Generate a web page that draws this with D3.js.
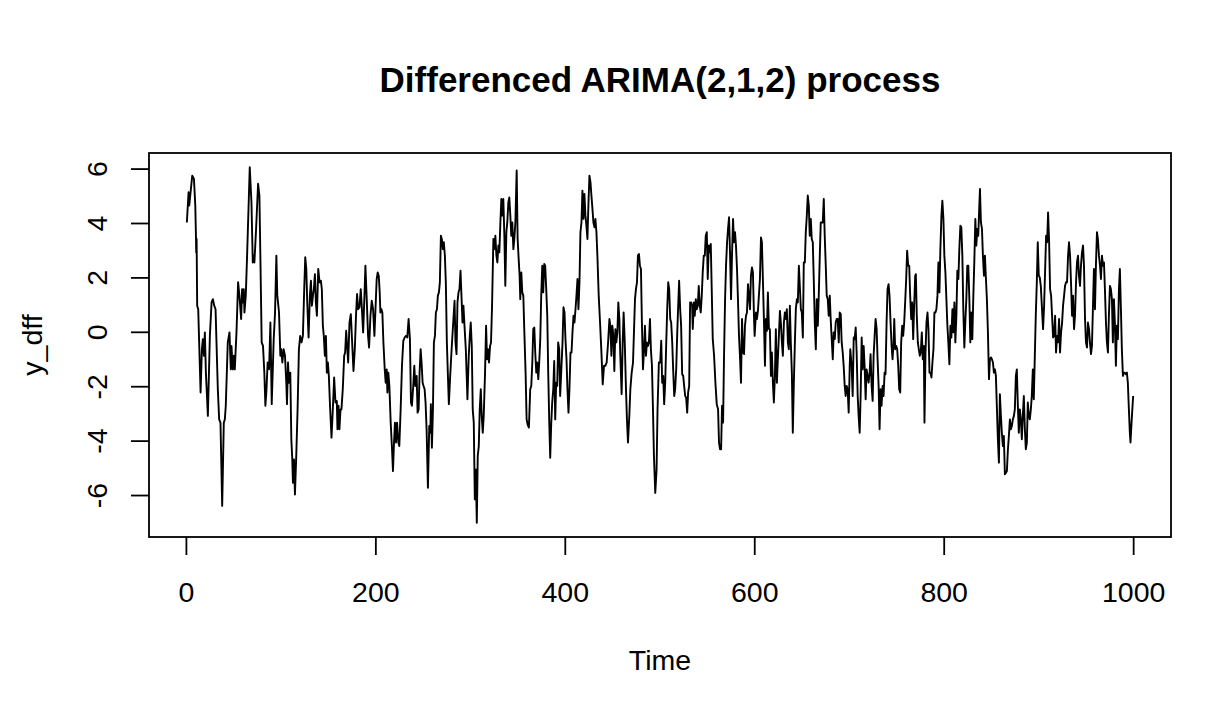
<!DOCTYPE html>
<html>
<head>
<meta charset="utf-8">
<script src="https://cdn.jsdelivr.net/npm/d3@7/dist/d3.min.js"></script>
<style>
  body { margin: 0; background: #fff; }
  text { font-family: "Liberation Sans", Arial, Helvetica, sans-serif; fill: #000; }
</style>
</head>
<body>
<div id="chart"></div>
<script>
// time index of the points
var time = [
  // 1 - 96
  1,2.8,3.5,6.7,8.5,9.9,10.6,10.9,11.3,11.9,13.0,14.4,15.5,16.9,17.9,19.0,20.0,21.1,23.2,25.3,
  27.1,28.5,29.9,31.3,33.7,35.1,36.5,38.3,40.0,41.1,42.1,44.2,46.0,47.4,48.1,49.5,50.6,51.6,53.4,55.1,
  56.5,58.3,59.3,60.4,61.1,61.8,63.2,64.6,66.4,67.4,69.2,70.6,71.6,72.3,74.1,76.2,77.6,78.6,80.0,81.4,
  82.8,83.9,84.9,86.3,87.8,89.2,90.6,92.7,94.1,95.5,
  // 96 - 197
  96.5,98.3,99.7,100.7,101.8,103.2,104.6,106.0,106.7,107.8,108.8,110.2,111.3,112.3,113.0,114.1,115.1,116.5,117.9,119.3,
  120.7,122.1,123.5,124.9,126.0,127.1,128.1,129.5,130.9,132.0,133.0,134.1,135.1,136.2,137.2,138.3,139.7,141.1,142.5,143.5,
  144.6,145.6,146.7,147.8,148.8,149.9,150.9,152.3,153.7,155.1,156.5,157.9,159.3,160.0,161.1,162.1,163.2,164.2,165.6,167.1,
  168.1,169.2,170.2,171.3,172.7,174.1,175.5,176.9,178.3,179.7,180.7,181.8,183.2,184.6,186.0,187.1,188.5,189.5,190.9,192.3,
  193.4,194.8,196.2,
  // 197 - 298
  197.6,199.0,200.0,201.4,202.5,203.6,204.6,205.3,206.4,207.4,208.5,209.9,210.9,212.0,212.7,213.7,214.8,216.2,217.6,218.6,
  219.7,220.7,221.8,222.9,224.3,225.3,226.7,228.1,229.5,230.9,232.3,233.7,235.1,236.5,237.6,238.6,240.0,241.1,242.2,243.6,
  244.6,245.7,246.7,247.8,248.8,249.9,250.9,252.0,253.0,254.1,255.5,256.9,258.0,258.6,259.7,260.8,261.8,262.9,263.9,265.0,
  266.0,267.1,268.1,269.2,270.2,271.3,272.3,273.4,274.4,275.5,276.5,277.6,279.0,280.7,282.2,283.6,284.6,285.7,286.7,287.8,
  288.8,289.9,290.9,292.0,293.0,294.1,295.5,297.2,
  // 298 - 398
  298.6,299.7,300.7,301.8,302.8,303.9,305.0,306.0,307.1,308.1,309.2,310.2,311.3,312.3,313.4,314.4,315.8,316.9,317.9,319.0,
  320.0,321.1,322.1,323.2,324.6,325.7,326.7,327.8,328.8,329.9,330.9,332.0,333.0,334.1,335.1,336.2,337.2,338.3,339.3,340.4,
  341.4,342.5,343.5,344.6,345.7,346.7,347.8,349.2,350.2,351.3,352.3,353.0,354.1,355.1,356.2,357.2,358.6,359.7,360.7,362.1,
  363.5,364.6,365.7,366.7,367.8,368.8,369.9,370.9,372.0,373.0,374.1,375.1,376.2,377.2,378.3,379.3,380.4,381.5,382.5,383.6,
  384.6,385.7,386.7,387.8,388.8,389.9,390.9,392.0,393.0,394.1,395.1,396.2,397.6,
  // 398 - 500
  398.6,399.7,400.7,401.8,402.8,403.9,404.9,406.0,407.1,408.1,409.2,410.2,411.3,412.3,413.4,414.4,415.5,416.5,417.6,418.6,
  419.7,420.7,421.8,422.8,423.9,424.9,426.0,427.1,428.1,429.2,430.2,431.3,432.3,433.4,434.4,435.8,437.2,438.6,440.0,441.4,
  442.8,444.2,445.7,447.1,448.1,449.2,450.2,451.3,452.3,453.4,454.4,455.5,456.5,457.6,458.6,460.0,461.1,462.1,463.2,464.6,
  465.6,466.7,468.1,469.2,470.6,472.0,473.0,474.1,475.1,476.2,477.2,478.3,479.3,480.4,481.4,482.5,483.5,484.6,485.7,486.7,
  487.8,488.8,489.9,490.9,492.0,493.0,494.1,495.5,496.9,497.9,499.3,
  // 500 - 600
  500.7,501.8,502.8,503.9,504.9,506.0,507.1,508.1,509.2,510.2,511.3,512.3,513.4,514.4,515.5,516.5,517.6,518.6,519.7,520.7,
  521.8,522.8,523.9,525.0,526.0,527.1,528.1,529.2,530.2,531.3,532.3,533.4,534.4,535.1,536.2,537.2,538.3,539.3,540.4,541.4,
  542.5,543.5,544.6,545.6,546.7,547.8,548.8,549.9,550.9,552.0,553.0,554.1,555.1,556.2,557.6,559.0,560.4,561.8,562.8,563.9,
  565.0,566.0,567.1,568.1,569.2,570.2,571.3,572.3,573.4,574.4,575.5,576.5,577.6,578.6,579.7,580.7,581.8,582.8,583.9,584.9,
  586.0,587.1,588.1,589.2,590.2,591.3,592.3,593.4,594.4,595.5,596.5,597.6,598.6,599.7,600.4,
  // 601 - 701
  601.8,602.8,603.9,604.9,606.0,607.1,608.1,609.2,610.2,611.3,612.3,613.4,614.4,615.5,616.5,617.6,618.6,619.7,620.7,621.8,
  622.8,623.9,624.9,626.0,627.1,628.1,629.2,630.2,631.3,632.3,633.4,634.4,635.5,636.5,637.6,638.6,639.7,640.7,641.8,642.9,
  643.9,645.0,646.0,647.1,648.1,649.2,650.2,651.3,652.3,653.4,654.4,655.5,656.5,657.6,658.6,659.7,660.7,661.8,662.9,663.9,
  665.0,666.0,667.1,668.1,669.2,670.2,671.3,672.3,673.4,674.4,675.5,676.5,677.6,678.6,679.7,680.7,681.8,682.9,683.9,685.0,
  686.0,687.1,688.1,689.2,690.2,691.3,692.3,693.4,694.4,695.5,696.5,697.6,698.6,699.7,700.8,701.4,
  // 702 - 802
  702.8,703.9,705.0,706.0,707.1,708.1,709.2,710.2,711.3,712.3,713.4,714.4,715.5,716.5,717.6,718.6,719.7,720.7,721.8,722.8,
  723.9,725.0,726.0,727.1,728.1,729.2,730.2,731.3,732.3,733.4,734.4,735.5,736.5,737.6,738.6,739.7,740.7,741.8,742.8,743.9,
  745.0,746.0,747.1,747.8,748.8,749.9,750.9,752.0,753.0,754.1,755.1,756.2,757.2,758.3,759.3,760.4,761.4,762.5,763.6,764.6,
  765.7,766.7,767.8,768.8,769.9,770.6,771.6,772.7,773.7,774.8,775.8,776.9,777.9,779.0,779.7,780.8,781.8,782.9,783.9,785.0,
  786.0,787.1,788.1,789.2,790.2,791.3,792.3,793.4,794.4,795.5,796.5,797.6,798.6,799.7,800.7,801.8,
  // 803 - 903
  803.9,804.9,806.0,807.1,808.1,809.2,810.2,811.3,812.3,813.4,814.4,815.5,816.5,817.6,818.6,819.7,820.7,821.8,822.8,823.9,
  824.9,826.0,827.1,828.1,829.2,830.2,831.3,832.3,833.4,834.4,835.5,836.5,837.6,838.3,839.3,840.4,841.4,842.5,843.5,844.6,
  845.6,846.7,847.8,848.8,849.9,850.9,852.0,853.0,854.1,855.1,856.2,857.2,858.3,859.3,860.4,861.4,862.5,863.5,864.6,865.7,
  866.7,867.8,868.8,869.9,870.9,872.0,873.0,874.1,875.1,876.2,877.2,878.3,879.3,880.4,881.4,882.5,883.5,884.6,885.7,886.7,
  887.8,888.8,889.9,890.9,892.0,893.0,894.1,895.1,896.2,897.2,898.3,899.3,900.4,901.4,902.5,
  // 904 - 1000
  904.9,906.0,907.0,908.1,909.2,910.2,911.3,912.3,913.4,914.4,915.5,916.5,917.6,918.6,919.7,920.7,921.8,922.8,923.9,925.0,
  926.0,927.1,928.1,929.2,930.2,931.3,932.3,933.4,934.4,935.5,936.5,937.6,938.6,939.7,940.7,941.8,942.8,943.9,944.9,946.0,
  947.1,948.1,949.2,950.2,951.3,952.3,953.4,954.4,955.5,956.5,957.6,958.6,959.7,960.7,961.8,962.8,963.9,965.0,966.0,967.1,
  968.1,969.2,970.2,971.3,972.3,973.4,974.4,975.5,976.5,977.6,978.6,979.7,980.7,981.8,982.8,983.9,985.0,986.0,987.1,988.1,
  989.2,990.2,991.3,992.3,993.4,994.4,995.5,996.5,997.2,998.3,1000
];

// differenced series values, same order as time
var y_dff = [
  4.02,5.13,4.64,5.74,5.62,4.64,3.53,2.92,3.41,0.96,0.83,-0.88,-2.23,-0.64,-0.27,-0.88,-0.02,-1.50,-3.09,-0.15,
  1.08,1.20,0.96,0.83,-2.11,-3.22,-3.34,-6.40,-3.34,-3.22,-2.72,-0.39,-0.02,-1.38,-0.52,-1.38,-0.88,-1.38,-0.02,1.82,
  1.33,0.47,1.57,1.08,1.57,0.71,1.33,2.80,4.88,6.05,4.76,2.55,2.80,2.55,3.78,5.44,5.01,2.80,-0.39,-0.52,
  -1.50,-2.72,-2.23,-1.13,-1.38,0.34,-2.66,-0.27,0.71,2.80,

  1.33,0.71,-0.88,-0.64,-1.13,-0.64,-0.88,-1.87,-2.66,-1.13,-1.87,-1.50,-3.95,-4.69,-5.55,-4.69,-5.98,-4.56,-2.85,-0.64,
  -0.15,-0.39,-0.15,1.57,2.74,2.31,1.08,-0.21,1.33,1.88,0.96,1.33,1.57,2.12,1.08,0.59,2.31,1.82,1.88,1.57,
  0.22,-0.15,-0.88,-0.15,-1.50,-1.13,-1.62,-2.85,-3.89,-2.85,-1.68,-2.60,-2.54,-3.58,-2.72,-3.58,-2.85,-2.85,-2.11,-0.88,
  -0.76,0.04,-0.52,-1.13,0.34,0.65,-0.39,-1.44,-0.64,0.71,1.39,0.83,0.90,1.57,0.71,-0.02,1.33,2.43,1.20,-0.15,
  -0.58,0.59,1.14,

  0.83,-0.15,0.71,1.94,2.18,2.06,1.45,0.71,0.83,0.71,-0.39,-1.38,-1.87,-1.38,-2.23,-1.50,-1.99,-3.34,-4.32,-5.12,
  -4.07,-3.34,-4.07,-3.34,-4.07,-4.20,-2.85,-1.25,-0.33,-0.21,-0.15,-0.21,0.47,-0.27,-2.60,-2.72,-1.99,-1.25,-1.99,-1.62,
  -2.97,-2.85,-1.50,-0.64,-1.13,-1.87,-1.99,-2.11,-2.60,-3.58,-5.73,-3.46,-3.71,-2.66,-4.26,-2.85,-0.39,-0.15,0.71,0.83,
  1.33,1.45,1.82,3.53,3.41,3.04,3.29,2.80,1.82,-0.39,-1.50,-2.66,-1.62,-0.52,0.34,1.14,-0.39,-0.82,1.08,1.45,
  1.57,2.25,1.33,0.34,0.96,0.22,-0.64,-2.48,

  -0.88,-0.15,0.34,-0.52,-2.85,-3.34,-6.16,-5.06,-7.02,-4.56,-4.20,-2.85,-2.11,-3.09,-3.71,-3.09,-1.50,0.22,-1.01,-0.64,
  -1.13,-0.52,-0.39,0.96,3.41,3.04,3.53,2.80,2.55,3.17,2.92,4.02,4.88,4.27,4.88,3.53,1.69,3.66,4.02,4.76,
  4.94,4.27,3.53,4.02,3.04,3.41,4.02,5.93,3.41,2.67,2.06,1.20,2.18,1.45,1.33,0.10,-1.50,-3.22,-3.40,-3.52,
  -2.11,-1.99,-1.13,0.10,0.16,-0.76,-1.50,-1.13,-1.74,-1.13,-0.27,1.33,2.43,1.45,2.49,2.43,1.57,0.59,-1.50,-3.34,
  -4.63,-3.34,-2.60,-2.11,-1.07,-3.22,-1.87,-1.99,-0.39,-0.64,-2.36,-1.50,-0.39,

  0.90,0.71,-0.27,-1.01,-2.11,-2.97,-2.11,-0.76,-0.76,-0.02,0.59,0.34,0.83,1.33,1.94,0.83,1.82,3.66,4.02,5.19,
  4.15,5.07,4.27,3.90,3.41,4.64,5.74,5.50,5.01,4.52,4.02,3.84,4.15,3.66,2.80,1.33,0.34,-0.70,-1.93,-1.25,
  -1.25,-1.13,-0.39,0.47,0.22,-0.88,0.22,-0.15,-1.44,0.10,-0.39,-0.02,1.08,0.47,-0.88,-2.29,-0.39,0.71,-0.27,-2.11,
  -3.22,-4.07,-3.09,-2.11,-1.50,-1.13,-0.02,1.20,1.57,1.82,2.80,2.86,2.43,2.31,0.34,-1.38,-0.76,0.22,-0.88,-0.39,
  -0.52,-0.39,0.47,-0.64,-1.25,-2.72,-4.56,-5.92,-5.06,-2.85,-1.13,

  -1.13,-0.33,-1.87,-1.62,-2.66,-1.87,-0.39,0.83,1.82,1.57,0.47,0.34,-0.39,-1.38,-2.36,-2.11,-1.38,-0.15,0.96,1.88,
  0.83,0.22,-1.56,-1.62,-1.99,-2.36,-2.42,-2.97,-2.23,-1.99,1.08,1.08,0.96,0.10,1.08,0.59,1.20,0.83,0.96,1.69,
  0.96,0.71,1.33,2.18,2.80,2.80,3.53,3.66,1.94,3.17,2.92,3.23,1.57,-0.27,-0.88,-1.87,-2.66,-2.85,-4.07,-4.32,
  -4.32,-2.72,-3.34,-0.88,1.20,2.43,3.29,3.78,4.21,2.92,1.20,2.80,4.15,3.29,3.66,3.17,2.31,1.20,-0.15,-0.88,
  -1.87,0.47,-0.76,-0.82,0.22,0.59,0.71,1.75,1.33,0.83,2.06,2.37,2.18,0.59,-0.15,

  0.71,0.47,0.77,1.33,1.94,3.47,3.29,1.82,0.47,-1.25,0.47,0.04,1.45,0.10,0.10,-1.62,-0.76,-1.87,-2.60,-1.62,
  0.10,-1.87,-1.01,-0.15,0.77,0.34,-0.39,-0.88,0.34,0.71,0.47,0.83,-0.39,-0.64,0.96,-0.39,-1.50,-3.71,-1.87,-0.39,
  0.83,1.20,1.08,2.43,1.69,0.83,0.71,-0.21,2.55,2.55,3.66,4.27,5.01,4.64,3.53,4.15,3.41,3.29,1.82,0.34,
  -0.64,1.20,0.22,1.33,2.80,4.02,4.02,4.02,4.88,3.53,2.43,1.33,1.20,0.59,1.33,0.47,-0.27,-1.01,-0.02,-0.27,
  0.34,0.47,0.47,-0.39,0.71,0.65,-0.39,-0.76,-1.25,-1.99,-2.36,-1.99,-2.11,-2.97,-1.25,-0.64,

  -1.25,-2.36,-0.21,-0.27,0.16,-0.76,-2.36,-3.09,-3.71,-2.36,-0.21,-1.38,-0.52,-1.25,-2.48,-1.38,-1.62,-1.87,-1.50,-0.82,
  -1.99,-2.54,-0.88,-0.15,0.47,0.10,-1.01,-1.99,-3.58,-2.11,-2.72,-1.99,-2.36,-1.50,-1.56,0.34,1.57,1.75,1.33,0.34,
  -0.52,-1.01,-0.39,0.47,-0.64,-0.52,-0.64,-1.25,-2.11,-2.23,-0.39,0.22,-0.15,0.34,1.08,1.94,2.98,2.43,2.43,1.33,
  0.47,1.08,-0.27,0.96,2.06,2.12,0.59,-0.39,-0.64,-0.88,-0.76,-0.02,-1.01,-0.52,-3.34,-0.76,0.34,0.71,0.10,-1.50,
  -1.50,-1.68,-1.13,-0.64,0.71,0.71,0.83,1.33,2.55,1.45,3.04,4.27,4.82,4.15,2.80,2.18,

  0.22,-0.39,-1.19,0.22,-0.21,0.83,-0.02,1.08,-0.39,0.59,2.25,1.94,3.04,3.90,3.84,2.80,0.83,-0.58,0.34,1.20,
  2.43,2.43,1.20,-0.39,0.71,-0.27,1.33,2.55,4.15,3.17,3.78,3.53,4.64,5.25,4.02,3.78,2.80,2.06,2.80,1.94,
  1.20,-0.02,-1.74,-1.01,-0.94,-1.01,-1.13,-1.50,-1.38,-1.62,-2.85,-3.95,-4.81,-2.29,-3.09,-3.71,-4.20,-3.83,-5.24,-5.18,
  -5.12,-4.32,-3.83,-3.22,-3.58,-3.46,-3.22,-3.09,-2.85,-1.62,-1.38,-2.72,-3.71,-2.85,-3.22,-3.95,-3.09,-2.36,-3.58,-4.32,
  -4.07,-2.60,-3.09,-3.22,-2.85,-2.36,-1.38,-2.48,-0.88,0.59,1.82,3.29,2.06,2.00,1.69,

  0.10,0.96,2.18,3.53,3.29,4.39,3.29,1.57,1.33,0.59,-0.21,-0.15,0.59,-0.76,-0.15,-0.39,0.47,-0.76,-0.02,0.34,
  0.96,1.33,1.69,1.82,1.82,2.80,3.29,2.80,1.82,0.59,1.33,0.10,0.59,1.82,2.55,2.80,2.06,1.69,2.43,2.92,
  3.17,2.43,0.47,-0.39,-0.58,0.34,0.10,-0.39,-0.82,-0.52,0.96,2.31,0.83,2.43,3.66,3.41,2.80,2.43,1.94,2.80,
  2.43,2.55,1.57,0.34,-0.39,-0.76,0.59,1.69,1.57,1.20,-0.39,1.20,0.34,-1.25,0.22,-0.27,1.57,2.31,0.83,-0.64,
  -1.62,-1.50,-1.50,-1.56,-1.50,-1.87,-2.85,-3.71,-4.07,-3.34,-2.36
];

var xTicks = [0, 200, 400, 600, 800, 1000];
var yTicks = [-6, -4, -2, 0, 2, 4, 6];
var mainTitle = "Differenced ARIMA(2,1,2) process";
var xLabel = "Time";
var yLabel = "y_dff";

var width = 1231, height = 711;
var plot = {left: 149, right: 1171, top: 153, bottom: 537};

var data = time.map(function(t, i) { return {t: t, v: y_dff[i]}; });

var svg = d3.select("#chart")
  .append("svg")
  .attr("width", width)
  .attr("height", height);

// R pads the data range by 4% on each side
var xExt = d3.extent(time), yExt = d3.extent(y_dff);
var xPad = (xExt[1] - xExt[0]) * 0.04,
    yPad = (yExt[1] - yExt[0]) * 0.04;

var x = d3.scaleLinear()
  .domain([xExt[0] - xPad, xExt[1] + xPad])
  .range([plot.left, plot.right]);

var y = d3.scaleLinear()
  .domain([yExt[0] - yPad, yExt[1] + yPad])
  .range([plot.bottom, plot.top]);

// the series
svg.append("path")
  .datum(data)
  .attr("fill", "none")
  .attr("stroke", "#000")
  .attr("stroke-width", 1.9)
  .attr("stroke-linejoin", "round")
  .attr("d", d3.line()
    .x(function(d) { return x(d.t); })
    .y(function(d) { return y(d.v); }));

// box round the plot region
svg.append("rect")
  .attr("x", plot.left)
  .attr("y", plot.top)
  .attr("width", plot.right - plot.left)
  .attr("height", plot.bottom - plot.top)
  .attr("fill", "none")
  .attr("stroke", "#000")
  .attr("stroke-width", 1.8);

// x axis
var gx = svg.append("g")
  .attr("transform", "translate(0," + plot.bottom + ")")
  .call(d3.axisBottom(x).tickValues(xTicks).tickSize(18).tickPadding(27).tickSizeOuter(0)
    .tickFormat(function(d) { return String(d); }));
gx.select(".domain").remove();
gx.selectAll("line").attr("stroke", "#000").attr("stroke-width", 1.8);
gx.selectAll("text")
  .style("font-family", "'Liberation Sans', Arial, sans-serif")
  .style("font-size", "28.5px");

// y axis, labels turned like R does
var gy = svg.append("g")
  .attr("transform", "translate(" + plot.left + ",0)")
  .call(d3.axisLeft(y).tickValues(yTicks).tickSize(18).tickSizeOuter(0)
    .tickFormat(function(d) { return d < 0 ? "-" + Math.abs(d) : String(d); }));
gy.select(".domain").remove();
gy.selectAll("line").attr("stroke", "#000").attr("stroke-width", 1.8);
gy.selectAll("text")
  .attr("transform", "rotate(-90)")
  .attr("x", 0)
  .attr("y", -42)
  .attr("dy", 0)
  .attr("text-anchor", "middle")
  .style("font-family", "'Liberation Sans', Arial, sans-serif")
  .style("font-size", "28.5px");

// titles
svg.append("text")
  .attr("x", (plot.left + plot.right) / 2)
  .attr("y", 92)
  .attr("text-anchor", "middle")
  .style("font-size", "35px")
  .style("font-weight", "bold")
  .text(mainTitle);

svg.append("text")
  .attr("x", (plot.left + plot.right) / 2)
  .attr("y", 670)
  .attr("text-anchor", "middle")
  .style("font-size", "28.5px")
  .text(xLabel);

svg.append("text")
  .attr("transform", "translate(42," + ((plot.top + plot.bottom) / 2) + ") rotate(-90)")
  .attr("text-anchor", "middle")
  .style("font-size", "28.5px")
  .text(yLabel);
</script>
</body>
</html>
